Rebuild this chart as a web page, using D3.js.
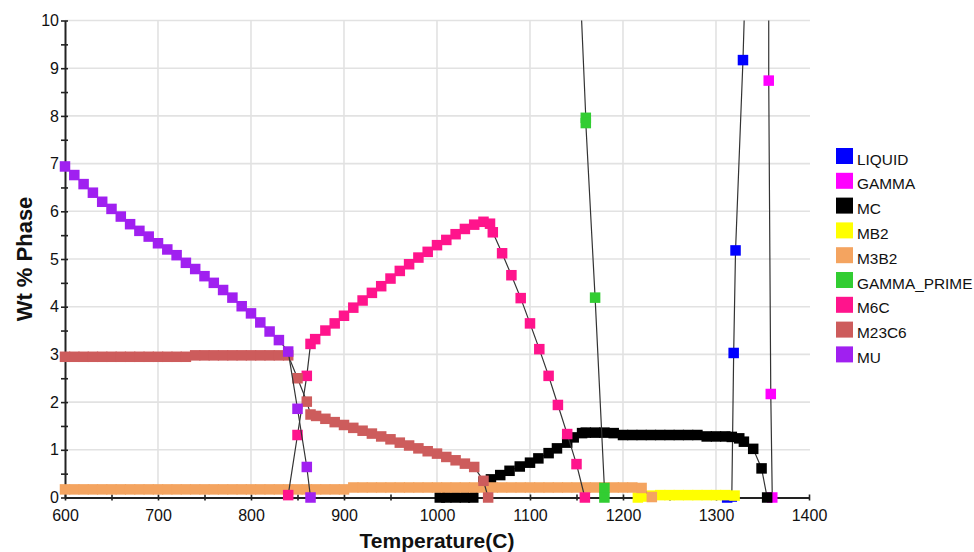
<!DOCTYPE html>
<html><head><meta charset="utf-8">
<script src="https://cdn.jsdelivr.net/npm/d3@7"></script>
<style>
body{margin:0;background:#fff;}
text{font-family:"Liberation Sans",Arial,Helvetica,sans-serif;}
</style></head><body>
<svg id="chart" width="974" height="552"></svg>
<script>
// ---------- data ----------
const xMajorTicks = [600,700,800,900,1000,1100,1200,1300,1400];
const xMinorTicks = [650,750,850,950,1050,1150,1250,1350];
const yMajorTicks = [0,1,2,3,4,5,6,7,8,9,10];
const yMinorTicks = [0.5,1.5,2.5,3.5,4.5,5.5,6.5,7.5,8.5,9.5];
const xTitle = "Temperature(C)";
const yTitle = "Wt % Phase";
const phaseNames = ["LIQUID","GAMMA","MC","MB2","M3B2","GAMMA_PRIME","M6C","M23C6","MU"];
const phaseColors = ["#0000ff","#ff00ff","#000000","#ffff00","#f4a460","#32cd32","#ff148c","#cd5c5c","#a020f0"];

const LIQUID = [[1312,0],[1317,0.02],[1319,3.03],[1321,5.18],[1329,9.17],[1335,13.1]];
const GAMMA = [[1356.6,30],[1356.7,8.74],[1358.9,2.17],[1360.5,0]];
const MC = [[1003,0],[1010,0],[1020,0],[1030,0],[1039,0],[1050,0.33],[1058,0.38],[1068,0.47],[1078,0.56],
  [1089,0.65],[1100,0.73],[1109,0.82],[1120,0.93],[1129,1.03],[1140,1.15],[1147,1.26],[1156,1.35],
  [1160,1.36],[1170,1.36],[1180,1.36],[1190,1.35],[1200,1.31],[1210,1.31],[1220,1.31],[1230,1.31],
  [1240,1.31],[1250,1.31],[1260,1.31],[1270,1.31],[1280,1.31],[1290,1.28],[1300,1.28],[1310,1.28],
  [1317,1.27],[1325,1.24],[1330,1.17],[1340,1.02],[1349,0.61],[1355,0]];
const MB2 = [[1216,0],[1220,0.02],[1230,0.04],[1240,0.05],[1250,0.05],[1260,0.05],[1270,0.05],[1280,0.05],
  [1290,0.05],[1300,0.05],[1310,0.05],[1320,0.04]];
const M3B2 = [[600,0.17],[610,0.17],[620,0.17],[630,0.17],[640,0.17],[650,0.17],[660,0.17],[670,0.17],
  [680,0.17],[690,0.17],[700,0.17],[710,0.17],[720,0.17],[730,0.17],[740,0.17],[750,0.17],[760,0.17],
  [770,0.17],[780,0.17],[790,0.17],[800,0.17],[810,0.17],[820,0.17],[830,0.17],[840,0.17],[850,0.17],
  [860,0.17],[870,0.17],[880,0.17],[890,0.17],[900,0.17],[910,0.21],[920,0.21],[930,0.21],[940,0.21],
  [950,0.21],[960,0.21],[970,0.21],[980,0.21],[990,0.21],[1000,0.21],[1010,0.21],[1020,0.21],[1030,0.21],
  [1040,0.21],[1050,0.21],[1060,0.21],[1070,0.21],[1080,0.21],[1090,0.21],[1100,0.21],[1110,0.21],
  [1120,0.21],[1130,0.21],[1140,0.21],[1150,0.21],[1160,0.21],[1170,0.21],[1180,0.21],[1190,0.21],
  [1200,0.21],[1210,0.21],[1220,0.2],[1231,0.01]];
const GAMMA_PRIME = [[1150,12.5],[1160,7.96],[1160,7.85],[1170,4.19],[1180,0.2],[1180,0]];
const M6C = [[840,0.05],[850,1.31],[860,2.55],[864,3.22],[869,3.32],[880,3.50],[890,3.65],[900,3.81],
  [910,3.98],[920,4.13],[930,4.29],[940,4.43],[950,4.59],[960,4.75],[970,4.89],[980,5.03],[990,5.15],
  [1000,5.29],[1010,5.40],[1020,5.52],[1030,5.63],[1040,5.72],[1050,5.78],[1057,5.74],[1060,5.56],
  [1070,5.12],[1080,4.66],[1090,4.18],[1100,3.65],[1110,3.11],[1120,2.55],[1130,1.94],[1140,1.33],
  [1150,0.70],[1159,0]];
const M23C6 = [[600,2.95],[610,2.95],[620,2.95],[630,2.95],[640,2.95],[650,2.95],[660,2.95],[670,2.95],
  [680,2.95],[690,2.95],[700,2.95],[710,2.95],[720,2.95],[730,2.95],[740,2.98],[750,2.98],[760,2.98],
  [770,2.98],[780,2.98],[790,2.98],[800,2.98],[810,2.98],[820,2.98],[830,2.98],[840,2.98],
  [850,2.50],[860,2.01],[864,1.74],[870,1.71],[880,1.65],[890,1.58],[900,1.52],[910,1.46],[920,1.40],
  [930,1.34],[940,1.28],[950,1.22],[960,1.15],[970,1.09],[980,1.03],[990,0.97],[1000,0.92],[1010,0.85],
  [1020,0.78],[1030,0.71],[1040,0.64],[1050,0.35],[1055,0]];
const MU = [[600,6.94],[610,6.76],[620,6.57],[630,6.39],[640,6.20],[650,6.05],[660,5.89],[670,5.73],
  [680,5.59],[690,5.47],[700,5.33],[710,5.20],[720,5.08],[730,4.92],[740,4.79],[750,4.64],[760,4.50],
  [770,4.35],[780,4.19],[790,4.01],[800,3.86],[810,3.67],[820,3.48],[830,3.30],[840,3.06],
  [850,1.86],[860,0.64],[864,0]];

const seriesData = [LIQUID,GAMMA,MC,MB2,M3B2,GAMMA_PRIME,M6C,M23C6,MU];

// ---------- layout ----------
const svg = d3.select("#chart");
const L = 65, R = 809, T = 20.5, B = 497.5;
const x = d3.scaleLinear().domain([600,1400]).range([L,R]);
const y = d3.scaleLinear().domain([0,10]).range([B,T]);

svg.append("rect").attr("width",974).attr("height",552).attr("fill","#fff");

const defs = svg.append("defs");
defs.append("clipPath").attr("id","clipTop").append("rect")
  .attr("x",0).attr("y",T).attr("width",974).attr("height",552-T);

// grid
const grid = svg.append("g").attr("stroke","#e2e2e2").attr("stroke-width",1.6);
yMajorTicks.filter(v=>v>0).forEach(v=>{
  grid.append("line").attr("x1",L).attr("x2",R+1).attr("y1",y(v)).attr("y2",y(v));
});
xMajorTicks.filter(t=>t>600 && t<1400).forEach(t=>{
  grid.append("line").attr("x1",x(t)).attr("x2",x(t)).attr("y1",T).attr("y2",B);
});

// axes
const xAxis = d3.axisBottom(x)
  .tickValues(xMajorTicks.concat(xMinorTicks))
  .tickFormat(d => xMajorTicks.includes(d) ? d : "")
  .tickSizeInner(3).tickSizeOuter(0).tickPadding(9.6);
const gx = svg.append("g").attr("transform",`translate(0,${B})`).call(xAxis);
const yAxis = d3.axisLeft(y)
  .tickValues(yMajorTicks.concat(yMinorTicks))
  .tickFormat(d => yMajorTicks.includes(d) ? d : "")
  .tickSizeInner(3).tickSizeOuter(0).tickPadding(3);
const gy = svg.append("g").attr("transform",`translate(${L},0)`).call(yAxis);

[gx,gy].forEach(g=>{
  g.select(".domain").attr("stroke","#222").attr("stroke-width",2);
  g.selectAll(".tick line").attr("stroke","#222").attr("stroke-width",1.6);
  g.selectAll(".tick text").attr("fill","#111").style("font-size","16px")
    .style("font-family","'Liberation Sans',Arial,sans-serif");
});
gx.selectAll(".tick line").attr("y1",-3).attr("y2",3);
gy.selectAll(".tick line").attr("x1",3).attr("x2",-4);

// titles
svg.append("text").attr("x",(L+R)/2).attr("y",548).attr("text-anchor","middle")
  .style("font-size","21px").style("font-weight","bold").attr("fill","#111").text(xTitle);
svg.append("text").attr("transform",`translate(32,${(T+B)/2}) rotate(-90)`).attr("text-anchor","middle")
  .style("font-size","22px").style("font-weight","bold").attr("fill","#111").text(yTitle);

// series
const line = d3.line().x(d=>x(d[0])).y(d=>y(d[1]));
const ms = 10.5;
seriesData.forEach((data,i)=>{
  const g = svg.append("g");
  g.append("path").attr("d",line(data)).attr("fill","none")
    .attr("stroke","#333").attr("stroke-width",1.2).attr("clip-path","url(#clipTop)");
  g.selectAll("rect").data(data.filter(d=>d[1]<=10)).join("rect")
    .attr("x",d=>x(d[0])-ms/2).attr("y",d=>y(d[1])-ms/2)
    .attr("width",ms).attr("height",ms).attr("fill",phaseColors[i]);
});

// legend
const lg = svg.append("g");
phaseNames.forEach((n,i)=>{
  const yy = 148 + i*24.8;
  lg.append("rect").attr("x",836).attr("y",yy).attr("width",17).attr("height",16).attr("fill",phaseColors[i]);
  lg.append("text").attr("x",857).attr("y",yy+16.5).style("font-size","15.4px").attr("fill","#111").text(n);
});
</script>
</body></html>
